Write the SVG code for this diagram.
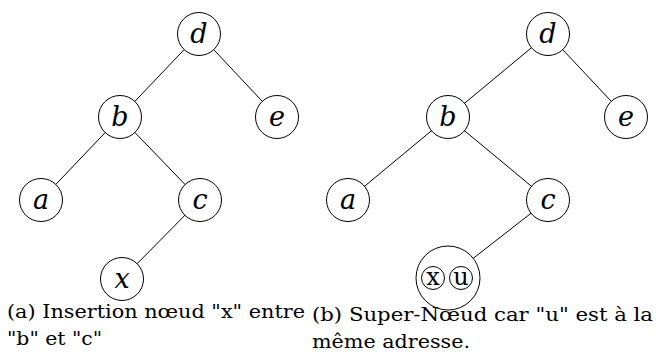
<svg xmlns="http://www.w3.org/2000/svg" width="657" height="358" viewBox="0 0 657 358">
<style>
.n{fill:#fff;stroke:#000;stroke-width:1}
.l{font-family:"DejaVu Serif","Liberation Serif",serif;font-style:italic;font-size:27px;text-anchor:middle;fill:#000}
.s{font-family:"DejaVu Serif","Liberation Serif",serif;font-size:24px;text-anchor:middle;fill:#000}
.c{font-family:"DejaVu Serif","Liberation Serif",serif;font-size:18.5px;fill:#000}
#edges line{stroke:#000;stroke-width:1}
</style>
<rect width="657" height="358" fill="#fff"/>
<g id="edges">
<line x1="199" y1="34" x2="120" y2="117"/>
<line x1="199" y1="34" x2="277" y2="117"/>
<line x1="120" y1="117" x2="41" y2="200"/>
<line x1="120" y1="117" x2="200" y2="200"/>
<line x1="200" y1="200" x2="122" y2="279"/>
<line x1="548" y1="34" x2="448" y2="117"/>
<line x1="548" y1="34" x2="626" y2="117"/>
<line x1="448" y1="117" x2="348" y2="200"/>
<line x1="448" y1="117" x2="548" y2="200"/>
<line x1="548" y1="200" x2="448" y2="278"/>
</g>
<g id="a-d"><circle class="n" cx="199" cy="34" r="21.5"/><text class="l" x="199" y="43">d</text></g>
<g id="a-b"><circle class="n" cx="120" cy="117" r="21.5"/><text class="l" x="120" y="126">b</text></g>
<g id="a-e"><circle class="n" cx="277" cy="117" r="21.5"/><text class="l" x="277" y="126">e</text></g>
<g id="a-a"><circle class="n" cx="41" cy="200" r="21.5"/><text class="l" x="41" y="209">a</text></g>
<g id="a-c"><circle class="n" cx="200" cy="200" r="21.5"/><text class="l" x="200" y="209">c</text></g>
<g id="a-x"><circle class="n" cx="122" cy="279" r="21.5"/><text class="l" x="122" y="288">x</text></g>
<g id="b-d"><circle class="n" cx="548" cy="34" r="21.5"/><text class="l" x="548" y="43">d</text></g>
<g id="b-b"><circle class="n" cx="448" cy="117" r="21.5"/><text class="l" x="448" y="126">b</text></g>
<g id="b-e"><circle class="n" cx="626" cy="117" r="21.5"/><text class="l" x="626" y="126">e</text></g>
<g id="b-a"><circle class="n" cx="348" cy="200" r="21.5"/><text class="l" x="348" y="209">a</text></g>
<g id="b-c"><circle class="n" cx="548" cy="200" r="21.5"/><text class="l" x="548" y="209">c</text></g>
<g id="b-super"><circle class="n" cx="448" cy="278" r="32"/>
<circle class="n" cx="433" cy="278" r="11.5"/><text class="s" x="433" y="285">x</text>
<circle class="n" cx="461" cy="278" r="11.5"/><text class="s" x="461" y="285">u</text></g>
<g id="captions">
<text class="c" x="7" y="318" textLength="298" lengthAdjust="spacingAndGlyphs">(a) Insertion nœud "x" entre</text>
<text class="c" x="7" y="345" textLength="95" lengthAdjust="spacingAndGlyphs">"b" et "c"</text>
<text class="c" x="312" y="321" textLength="341" lengthAdjust="spacingAndGlyphs">(b) Super-Nœud car "u" est à la</text>
<text class="c" x="312" y="348" textLength="158" lengthAdjust="spacingAndGlyphs">même adresse.</text>
</g>
</svg>
